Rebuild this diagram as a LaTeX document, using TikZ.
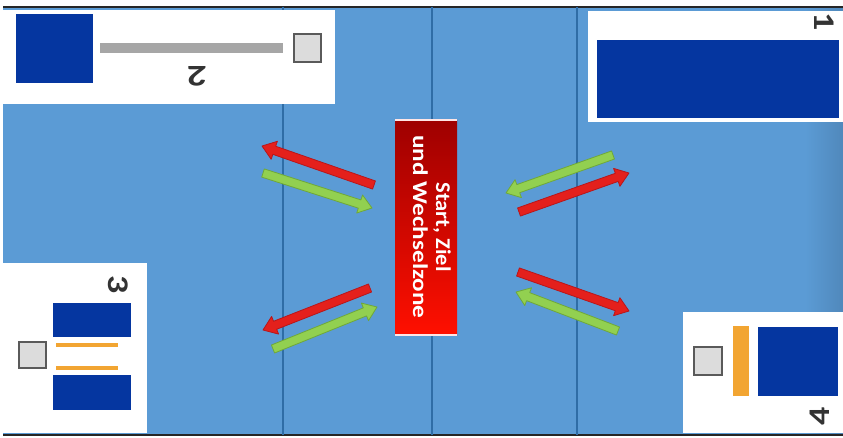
\documentclass[tikz,border=0pt]{standalone}
\usepackage{fontspec}
\setmainfont{Carlito}
\usetikzlibrary{calc}
\definecolor{field}{HTML}{5B9BD5}
\definecolor{lanel}{HTML}{2F6DA6}
\definecolor{navy}{HTML}{0536A0}
\definecolor{barg}{HTML}{A6A6A6}
\definecolor{boxg}{HTML}{DCDCDC}
\definecolor{boxo}{HTML}{5A5A5A}
\definecolor{orng}{HTML}{F2A532}
\definecolor{redA}{HTML}{E4201C}
\definecolor{redB}{HTML}{B8161A}
\definecolor{grnA}{HTML}{92D050}
\definecolor{grnB}{HTML}{6FA83A}
\definecolor{numc}{HTML}{333333}
\tikzset{
  panel/.style={fill=white, draw=none},
  blk/.style={fill=navy, draw=none},
  chk/.style={fill=boxg, draw=boxo, line width=1.6pt},
  num/.style={text=numc, font=\bfseries\fontsize{30}{30}\selectfont, inner sep=0pt},
  redarr/.style={fill=redA, draw=redB, line width=0.8pt, line join=round},
  grnarr/.style={fill=grnA, draw=grnB, line width=0.8pt, line join=round},
}
% block arrow: style, tail, head
\newcommand\blockarr[3]{%
  \coordinate (nk) at ($(#3)!13pt!(#2)$);
  \filldraw[#1] ($(#2)!4.3pt!90:(#3)$) -- ($(nk)!4.3pt!90:(#3)$) -- ($(nk)!9.5pt!90:(#3)$)
    -- (#3) -- ($(nk)!9.5pt!-90:(#3)$) -- ($(nk)!4.3pt!-90:(#3)$) -- ($(#2)!4.3pt!-90:(#3)$) -- cycle;}
\begin{document}
\begin{tikzpicture}[x=1pt,y=-1pt]
\useasboundingbox (0,0) rectangle (843,437);
\fill[white] (0,0) rectangle (843,437);
% field
\fill[field] (3,7) rectangle (843,435);
\shade[left color=field, right color=field!88!black] (805,7) rectangle (843,435);
\draw[black!85, line width=1.4pt] (3,7) -- (843,7);
\draw[black!85, line width=1.4pt] (3,435) -- (843,435);
% lane lines
\foreach \xx/\nm in {283/la,432/lb,577/lc}{
  \coordinate (\nm t) at (\xx,7);
  \coordinate (\nm b) at (\xx,435);
  \draw[lanel, line width=1.2pt] (\nm t) -- (\nm b);
}
% panel 2 (top left)
\fill[panel] (3,10) rectangle (335,104);
\node[blk, minimum width=77pt, minimum height=69pt, inner sep=0pt] (b2) at (54.5,48.5) {};
\node[fill=barg, minimum width=183pt, minimum height=10pt, inner sep=0pt] (g2) at (191.5,48) {};
\node[chk, minimum width=27pt, minimum height=28pt, inner sep=0pt] (c2) at (307.5,48) {};
\node[num, rotate=180] (n2) at (197,76) {\scalebox{1.3}[1]{2}};
% panel 1 (top right)
\fill[panel] (588,11) rectangle (843,122);
\node[blk, minimum width=242pt, minimum height=78pt, inner sep=0pt] (b1) at (718,79) {};
\node[num, rotate=-90] (n1) at (824,22) {\scalebox{1.2}[1]{1}};
% panel 3 (bottom left)
\fill[panel] (3,263) rectangle (147,433);
\node[num, rotate=-90] (n3) at (118,285) {\scalebox{1.2}[1]{3}};
\node[blk, minimum width=78pt, minimum height=34pt, inner sep=0pt] (b3a) at (92,320) {};
\node[blk, minimum width=78pt, minimum height=35pt, inner sep=0pt] (b3b) at (92,392.5) {};
\draw[orng, line width=3.4pt] (56,345) coordinate (o3a) -- (118,345) coordinate (o3b);
\draw[orng, line width=3.4pt] (56,368) coordinate (o3c) -- (118,368) coordinate (o3d);
\node[chk, minimum width=27pt, minimum height=26pt, inner sep=0pt] (c3) at (32.5,355) {};
% panel 4 (bottom right)
\fill[panel] (683,312) rectangle (843,433);
\node[chk, minimum width=28pt, minimum height=28pt, inner sep=0pt] (c4) at (708,361) {};
\node[fill=orng, minimum width=16pt, minimum height=70pt, inner sep=0pt] (o4) at (740.5,361) {};
\node[blk, minimum width=80pt, minimum height=69pt, inner sep=0pt] (b4) at (798,361.5) {};
\node[num, rotate=90] (n4) at (820,416) {\scalebox{1.2}[1]{4}};
% center zone
\shade[top color=red!62!black, bottom color=red!88!orange] (395,120) rectangle (457,335);
\draw[white!90!red, line width=1.5pt] (395,120) -- (457,120);
\draw[white!90!red, line width=1.2pt] (395,335) -- (457,335);
\node[rotate=-90, text=white, font=\bfseries\fontsize{21}{23}\selectfont, align=center, inner sep=0pt] (zone) at (432,227)
  {\scalebox{1.07}[1]{Start, Ziel}\\\scalebox{1.2}[1]{und Wechselzone}};
% arrows upper left
\coordinate (ulrt) at (374,185); \coordinate (ulrh) at (262,146);
\coordinate (ulgt) at (263,173); \coordinate (ulgh) at (372,208);
\blockarr{redarr}{ulrt}{ulrh}
\blockarr{grnarr}{ulgt}{ulgh}
% arrows lower left
\coordinate (llrt) at (370,288); \coordinate (llrh) at (263,330);
\coordinate (llgt) at (273,349); \coordinate (llgh) at (377,307);
\blockarr{redarr}{llrt}{llrh}
\blockarr{grnarr}{llgt}{llgh}
% arrows upper right
\coordinate (urgt) at (613,155); \coordinate (urgh) at (506,193);
\coordinate (urrt) at (519,212); \coordinate (urrh) at (629,173);
\blockarr{grnarr}{urgt}{urgh}
\blockarr{redarr}{urrt}{urrh}
% arrows lower right
\coordinate (lrrt) at (518,272); \coordinate (lrrh) at (629,311);
\coordinate (lrgt) at (618,331); \coordinate (lrgh) at (516,292);
\blockarr{redarr}{lrrt}{lrrh}
\blockarr{grnarr}{lrgt}{lrgh}
\end{tikzpicture}
\end{document}
